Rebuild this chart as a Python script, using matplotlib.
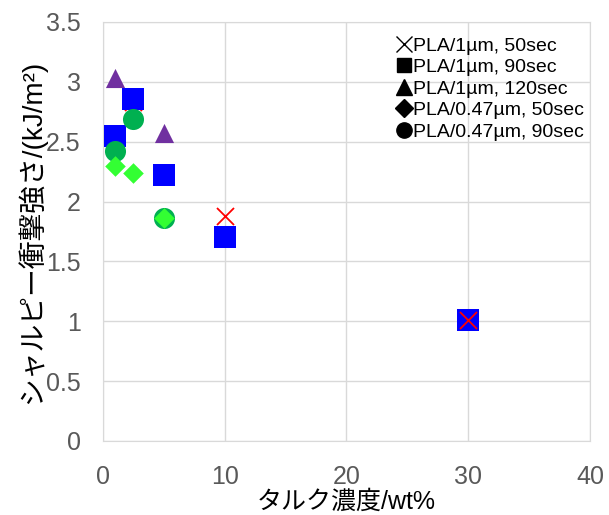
import numpy as np
import matplotlib
matplotlib.use("Agg")
import matplotlib.pyplot as plt
from matplotlib.lines import Line2D

# talc concentration (wt%) and Charpy impact strength (kJ/m2)
x_1um_50 = [2.5, 10, 30]
y_1um_50 = [2.83, 1.88, 1.01]
x_1um_90 = [1, 2.5, 5, 10, 30]
y_1um_90 = [2.55, 2.86, 2.22, 1.70, 1.01]
x_1um_120 = [1, 5]
y_1um_120 = [3.03, 2.57]
x_047_50 = [1, 2.5, 5]
y_047_50 = [2.30, 2.24, 1.86]
x_047_90 = [1, 2.5, 5]
y_047_90 = [2.42, 2.69, 1.86]

labels = ["PLA/1µm, 50sec", "PLA/1µm, 90sec", "PLA/1µm, 120sec",
          "PLA/0.47µm, 50sec", "PLA/0.47µm, 90sec"]

fonts = ["Liberation Sans", "Noto Sans CJK JP", "DejaVu Sans"]
plt.rcParams["font.family"] = fonts

fig = plt.figure(figsize=(6.09, 5.15), dpi=100)
ax = fig.add_axes([0.169, 0.1437, 0.7997, 0.8136])

ax.scatter(x_1um_50, y_1um_50, marker="x", s=150, c="#FF0000", linewidths=1.3, zorder=2)
ax.scatter(x_1um_90, y_1um_90, marker="s", s=260, c="#0000FF", linewidths=0, zorder=3)
# the 30 wt% cross sits on top of its square
top = np.array(x_1um_50) == max(x_1um_50)
ax.scatter(np.array(x_1um_50)[top], np.array(y_1um_50)[top], marker="x", s=150,
           c="#FF0000", linewidths=1.3, zorder=4)
ax.scatter(x_1um_120, y_1um_120, marker="^", s=190, c="#7030A0", linewidths=0, zorder=4)
ax.scatter(x_047_90, y_047_90, marker="o", s=230, c="#00B050", linewidths=0, zorder=5)
ax.scatter(x_047_50, y_047_50, marker="D", s=110, c="#33FF33", linewidths=0, zorder=6)

ax.set_xlim(0, 40)
ax.set_ylim(0, 3.5)
ax.set_xticks([0, 10, 20, 30, 40])
ax.set_yticks(np.arange(0, 3.51, 0.5))
ax.set_yticklabels(["0", "0.5", "1", "1.5", "2", "2.5", "3", "3.5"])
ax.grid(True, color="#D9D9D9", linewidth=1)
ax.set_axisbelow(True)
for s in ax.spines.values():
    s.set_color("#D9D9D9")
ax.tick_params(length=0, labelsize=18, labelcolor="#595959")
ax.tick_params(axis="x", pad=17)
ax.tick_params(axis="y", pad=16)

ax.set_xlabel("タルク濃度/wt%", fontsize=18, labelpad=0.5)
ax.set_ylabel("シャルピー衝撃強さ/(kJ/m²)", fontsize=20, labelpad=0)

handles = [
    Line2D([], [], ls="", marker="x", color="k", markersize=12, markeredgewidth=1),
    Line2D([], [], ls="", marker="s", color="k", markersize=10),
    Line2D([], [], ls="", marker="^", color="k", markersize=11),
    Line2D([], [], ls="", marker="D", color="k", markersize=9),
    Line2D([], [], ls="", marker="o", color="k", markersize=11),
]
ax.legend(handles, labels, loc="upper right", bbox_to_anchor=(1.012, 0.992), frameon=False,
          fontsize=14, handlelength=0.6, handletextpad=0.15, labelspacing=0.2,
          borderaxespad=0.2)

fig.savefig("out.png", dpi=100)
